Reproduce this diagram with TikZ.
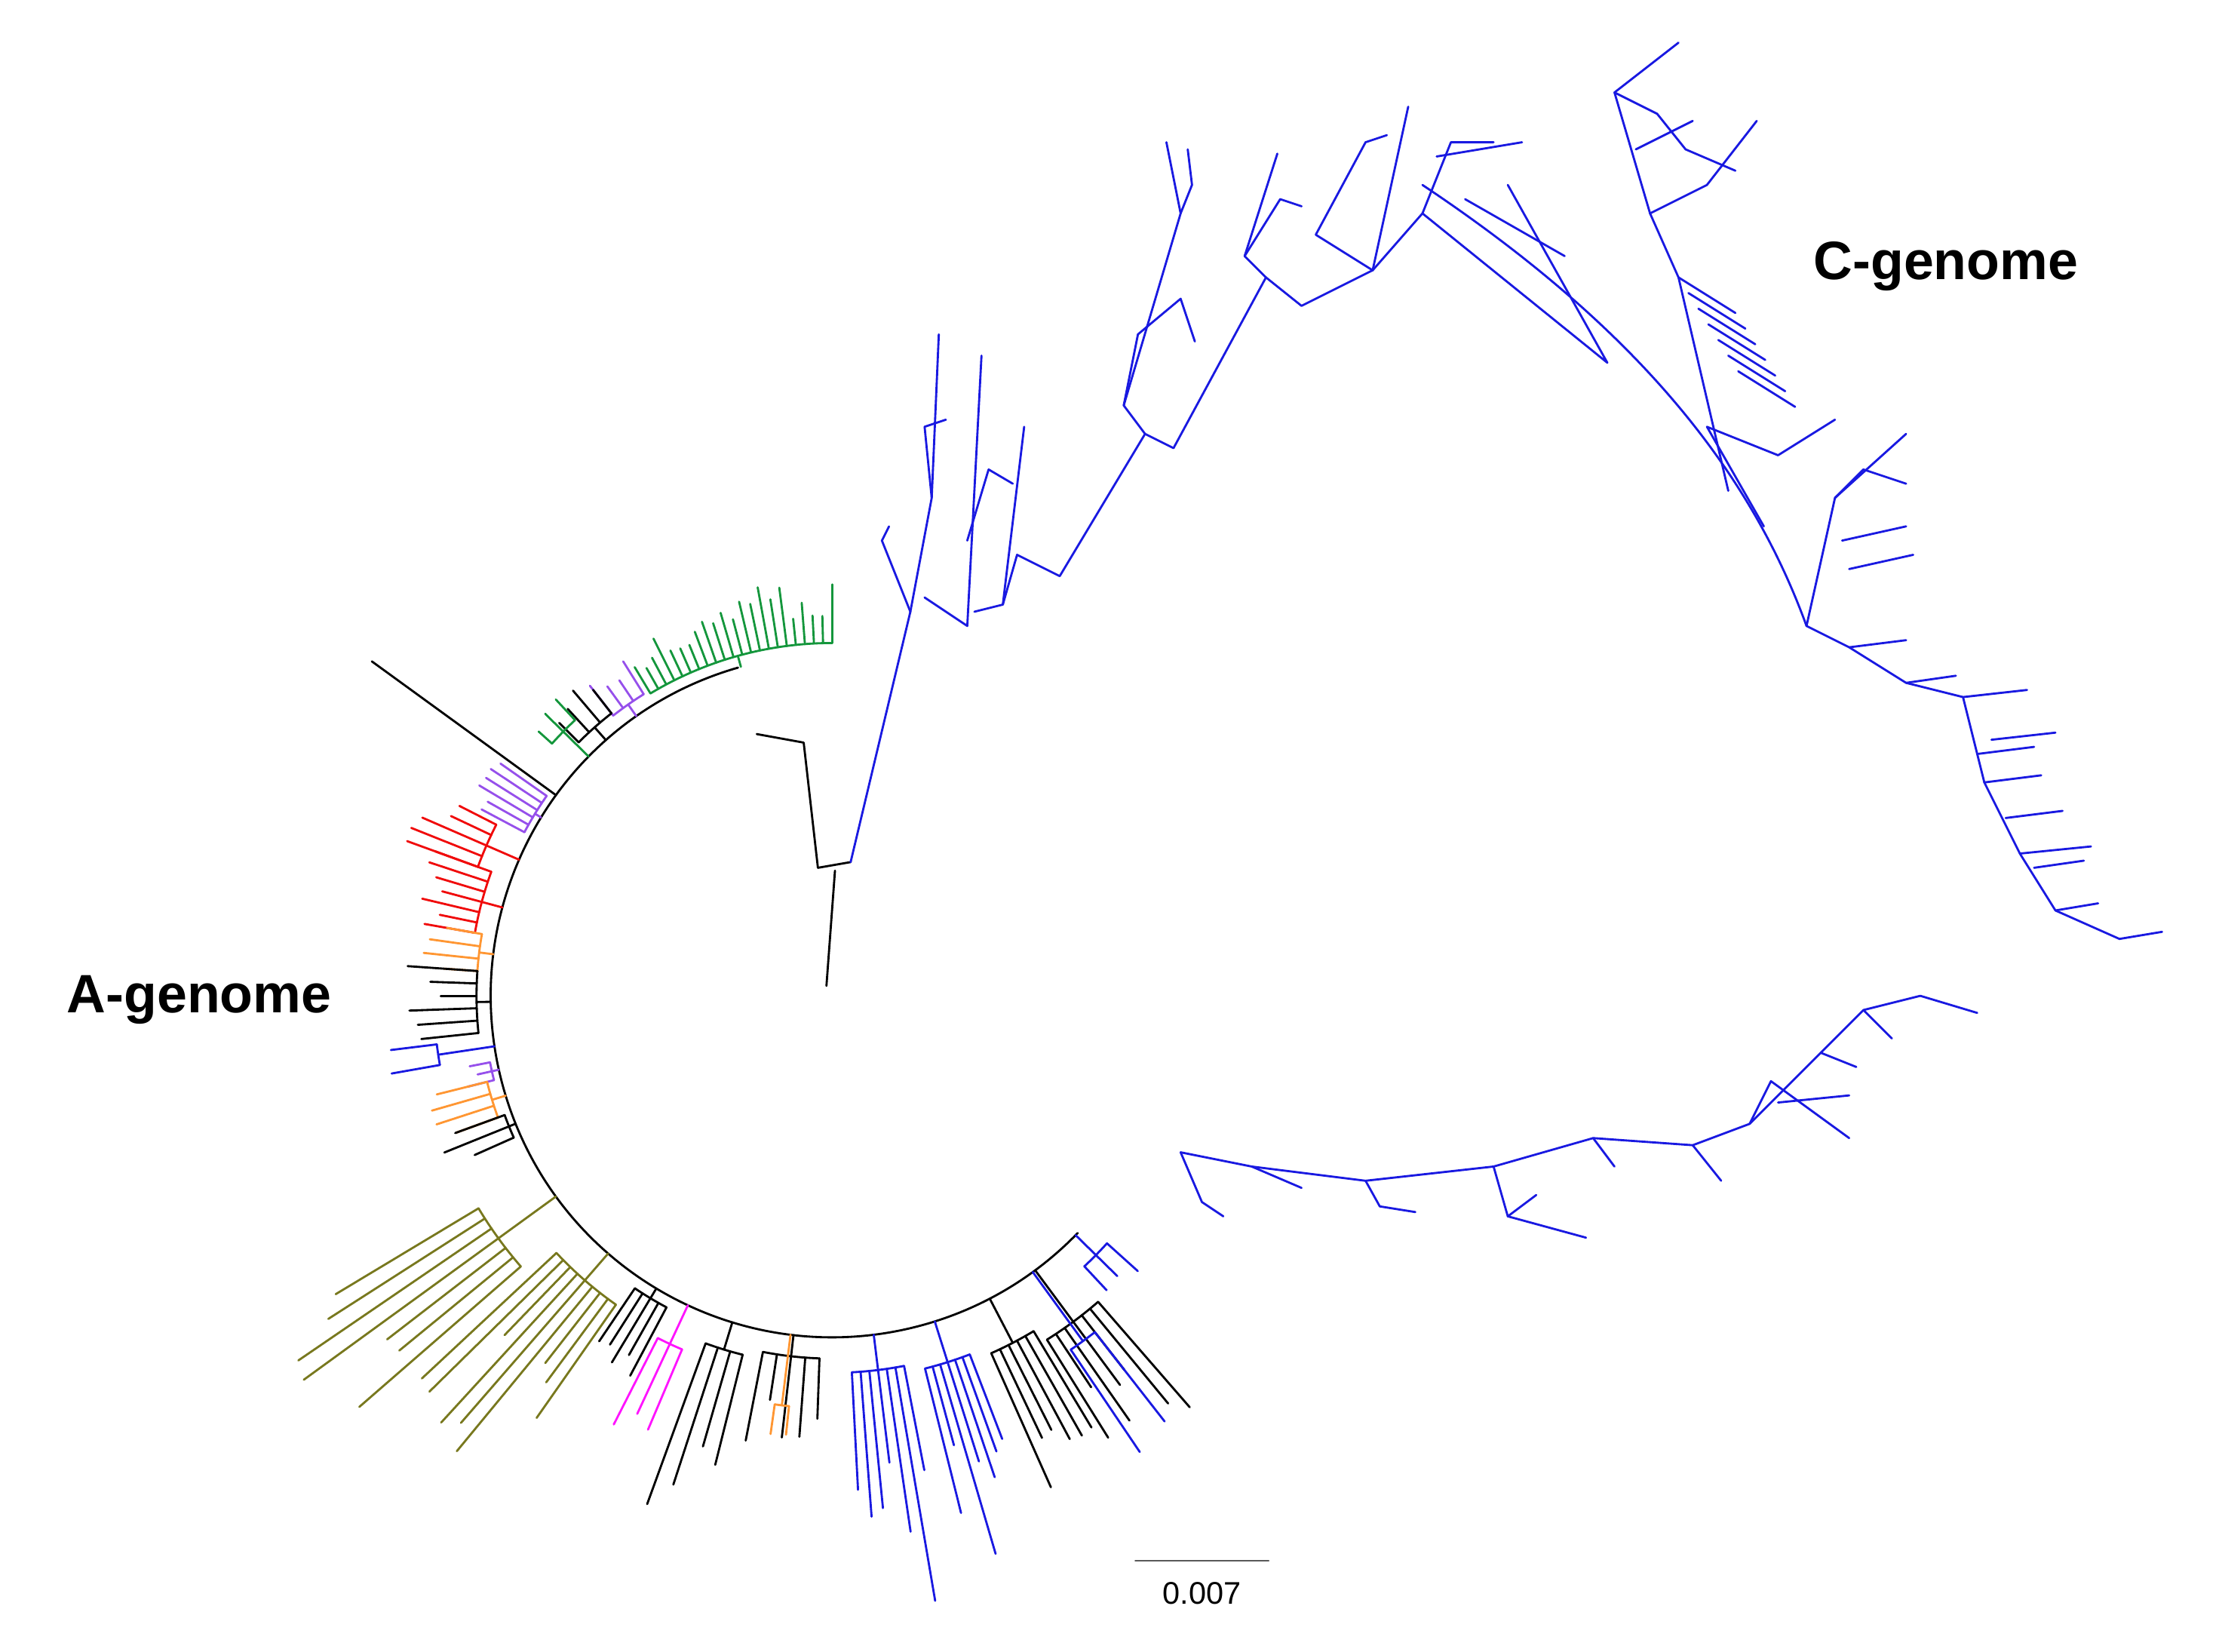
\documentclass[tikz,border=0pt]{standalone}
\usepackage{fontspec}
\setmainfont{Liberation Sans}
\definecolor{cblue}{RGB}{25,25,225}
\definecolor{cgreen}{RGB}{20,150,60}
\definecolor{cpurple}{RGB}{150,80,235}
\definecolor{cred}{RGB}{240,10,10}
\definecolor{corange}{RGB}{255,150,50}
\definecolor{colive}{RGB}{120,120,30}
\definecolor{cmag}{RGB}{255,20,255}
\newcommand\clade[7]{%
 \pgfmathsetmacro\Rb{240+#5}%
 \pgfmathsetmacro\am{(#2+#3)/2}%
 \draw[#1] (\am:240) -- (\am:\Rb);
 \draw[#1] (#2:\Rb) arc[start angle=#2,end angle=#3,radius=\Rb pt];
 \foreach \i in {0,...,\numexpr#4-1\relax}{%
  \pgfmathsetmacro\aa{#2+(#3-#2)*\i/(#4-1)}%
  \pgfmathsetmacro\ll{\Rb+#6+rnd*(#7-#6)}%
  \draw[#1] (\aa:\Rb) -- (\aa:\ll);}%
}
\begin{document}
\begin{tikzpicture}[x=1pt,y=1pt,line width=1.5pt,line cap=round,line join=round,
  lbl/.style={font=\bfseries\fontsize{38}{40}\selectfont}]
\useasboundingbox (0,0) rectangle (1560,-1161);
\pgfmathsetseed{7}
% root
\draw (581,-693) -- (587,-612);
\draw (575,-610) -- (598,-606);
\draw (575,-610) -- (565,-522) -- (532,-516);
\draw[cblue] (598,-606) -- (640,-430);
\begin{scope}[shift={(585,-700)}]
\draw (106:240) arc[start angle=106,end angle=316,radius=240pt];
\clade{cgreen}{90}{121}{22}{8}{15}{45}
\clade{cpurple}{122}{128}{4}{10}{15}{30}
\clade{black}{128}{135}{4}{12}{10}{35}
\clade{cgreen}{133}{138}{3}{25}{10}{20}
\draw (144:240) -- (144:400);
\clade{cpurple}{145}{152}{6}{5}{30}{45}
\clade{cred}{153}{160}{5}{25}{20}{55}
\clade{cred}{160}{170}{7}{15}{25}{50}
\clade{corange}{170}{176}{4}{10}{20}{40}
\clade{black}{176}{186}{6}{10}{20}{50}
\clade{cblue}{187}{190}{2}{40}{20}{40}
\clade{cpurple}{191}{194}{3}{5}{10}{20}
\clade{corange}{194}{200}{4}{10}{20}{45}
\clade{black}{200}{204}{3}{5}{30}{50}
\clade{colive}{211}{221}{7}{50}{100}{190}
\clade{colive}{223}{235}{9}{25}{60}{150}
\clade{black}{236}{242}{5}{8}{40}{60}
\clade{cmag}{243}{247}{3}{30}{50}{75}
\clade{black}{250}{256}{4}{20}{60}{140}
\clade{black}{259}{268}{5}{15}{30}{70}
\clade{corange}{262}{264}{2}{50}{20}{30}
\clade{cblue}{273}{281}{7}{25}{60}{170}
\clade{cblue}{284}{291}{7}{30}{50}{150}
\clade{black}{294}{301}{6}{35}{50}{110}
\clade{black}{302}{311}{7}{45}{40}{110}
\clade{cblue}{304}{308}{2}{60}{60}{90}
\clade{cblue}{313}{318}{3}{20}{20}{50}
\end{scope}
% upper C-genome
\begin{scope}[cblue]
\draw (640,-430) -- (655,-350) -- (660,-235);
\draw (655,-350) -- (650,-300) -- (665,-295);
\draw (640,-430) -- (620,-380) -- (625,-370);
\draw (650,-420) -- (680,-440) -- (690,-250);
\draw (680,-380) -- (695,-330) -- (712,-340);
\draw (685,-430) -- (705,-425) -- (720,-300);
\draw (705,-425) -- (715,-390) -- (745,-405) -- (805,-305);
\draw (805,-305) -- (790,-285) -- (830,-150) -- (820,-100);
\draw (830,-150) -- (838,-130) -- (835,-105);
\draw (790,-285) -- (800,-235) -- (830,-210) -- (840,-240);
\draw (805,-305) -- (825,-315) -- (890,-195) -- (875,-180) -- (898,-108);
\draw (875,-180) -- (900,-140) -- (915,-145);
\draw (890,-195) -- (915,-215) -- (965,-190) -- (990,-75);
\draw (965,-190) -- (925,-165) -- (960,-100) -- (975,-95);
\draw (965,-190) -- (1000,-150) -- (1020,-100) -- (1050,-100);
\draw (1000,-150) -- (1130,-255) -- (1060,-130);
\draw (1000,-130) .. controls (1150,-230) and (1230,-330) .. (1270,-440) -- (1300,-455) -- (1340,-480) -- (1380,-490) -- (1395,-550) -- (1420,-600) -- (1445,-640) -- (1490,-660) -- (1520,-655);
\draw (1010,-110) -- (1070,-100);
\draw (1030,-140) -- (1100,-180);
\foreach \x/\y/\l in {1300/-455/40,1340/-480/35,1380/-490/45,1395/-550/40,1400/-520/45,1410/-575/40,1420/-600/50,1445/-640/30,1430/-610/35,1390/-530/40}
  \draw (\x,\y) -- ++(\l,5);
\draw (1270,-440) -- (1290,-350) -- (1340,-305);
\draw (1290,-350) -- (1310,-330) -- (1340,-340);
\draw (1295,-380) -- (1340,-370);
\draw (1300,-400) -- (1345,-390);
\draw (1240,-370) -- (1200,-300) -- (1250,-320) -- (1290,-295);
% comb top right
\draw (1215,-345) -- (1180,-195) -- (1160,-150);
\foreach \k in {0,...,6} \draw (1180+\k*7,-195-\k*11) -- ++(40,-25);
\draw (1160,-150) -- (1135,-65) -- (1180,-30);
\draw (1160,-150) -- (1200,-130) -- (1235,-85);
\draw (1135,-65) -- (1165,-80) -- (1185,-105) -- (1220,-120);
\draw (1150,-105) -- (1190,-85);
% lower right chain
\draw (830,-810) -- (880,-820) -- (960,-830) -- (1050,-820) -- (1120,-800) -- (1190,-805) -- (1230,-790) -- (1280,-740) -- (1310,-710) -- (1350,-700) -- (1390,-712);
\draw (880,-820) -- (915,-835);
\draw (960,-830) -- (970,-848) -- (995,-852);
\draw (1050,-820) -- (1060,-855) -- (1115,-870);
\draw (1060,-855) -- (1080,-840);
\draw (1120,-800) -- (1135,-820);
\draw (1190,-805) -- (1210,-830);
\draw (1230,-790) -- (1245,-760) -- (1300,-800);
\draw (1250,-775) -- (1300,-770);
\draw (1280,-740) -- (1305,-750);
\draw (1310,-710) -- (1330,-730);
\draw (830,-810) -- (845,-845) -- (860,-855);
\end{scope}
\node[lbl] at (140,-703) {A-genome};
\node[lbl] at (1368,-187) {C-genome};
\draw[line width=0.8pt,gray!70!black] (798,-1097) -- (892,-1097);
\node[font=\fontsize{22}{24}\selectfont] at (845,-1120) {0.007};
\end{tikzpicture}
\end{document}
